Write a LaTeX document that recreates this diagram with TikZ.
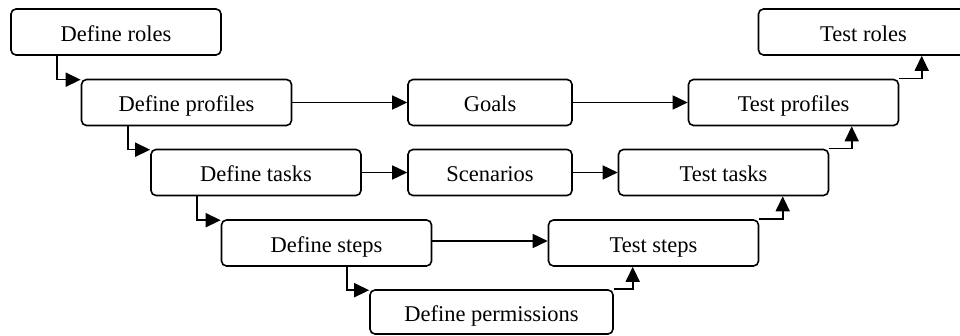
\documentclass[tikz,border=0pt]{standalone}
\usepackage{fontspec}
\setmainfont{Liberation Serif}
\usetikzlibrary{arrows.meta}

\begin{document}
\begin{tikzpicture}[x=1pt,y=-1pt,line width=1.6pt,
  arr/.style={-{Triangle[length=15pt,width=14pt]}}]
\tikzstyle{every node}=[draw, rounded corners=5pt, minimum height=46pt, minimum width=210pt,
  inner sep=0pt, text height=19pt, text depth=0pt, font=\fontsize{22.5}{26}\selectfont]
\useasboundingbox (0,0) rectangle (960,336);
\clip (0,0) rectangle (960,336);
\draw (116,32) node (dr) {Define roles};
\draw (186.5,102.5) node (dp) {Define profiles};
\draw (256,172.5) node (dt) {Define tasks};
\draw (326.5,243) node (ds) {Define steps};
\draw (491.5,312) node (dm) [minimum width=243pt, minimum height=44pt] {Define permissions};
\draw (490,102.5) node (g) [minimum width=164pt] {Goals};
\draw (490,172.5) node (sc) [minimum width=164pt] {Scenarios};
\draw (863.5,32) node (tr) {Test roles};
\draw (793.5,102.5) node (tp) {Test profiles};
\draw (723.5,172.5) node (tt) {Test tasks};
\draw (653.5,243) node (ts) {Test steps};
\draw[arr] ([xshift=47pt]dr.south west) |- ([yshift=-1pt]dp.north west);
\draw[arr] ([xshift=47pt]dp.south west) |- ([yshift=-1pt]dt.north west);
\draw[arr] ([xshift=47pt]dt.south west) |- ([yshift=-1pt]ds.north west);
\draw[arr] ([xshift=126pt]ds.south west) |- ([yshift=-1pt]dm.north west);
\draw[arr] (dp) -- (g);
\draw[arr] (g) -- (tp);
\draw[arr] (dt) -- (sc);
\draw[arr] (sc) -- (tt);
\draw[arr] ([yshift=2pt]ds.east) -- ([yshift=2pt]ts.west);
\draw[arr] (dm.north east) -| ([xshift=85pt]ts.south west);
\draw[arr] (ts.north east) -| ([xshift=165pt]tt.south west);
\draw[arr] (tt.north east) -| ([xshift=164pt]tp.south west);
\draw[arr] (tp.north east) -| ([xshift=164pt]tr.south west);
\end{tikzpicture}
\end{document}
